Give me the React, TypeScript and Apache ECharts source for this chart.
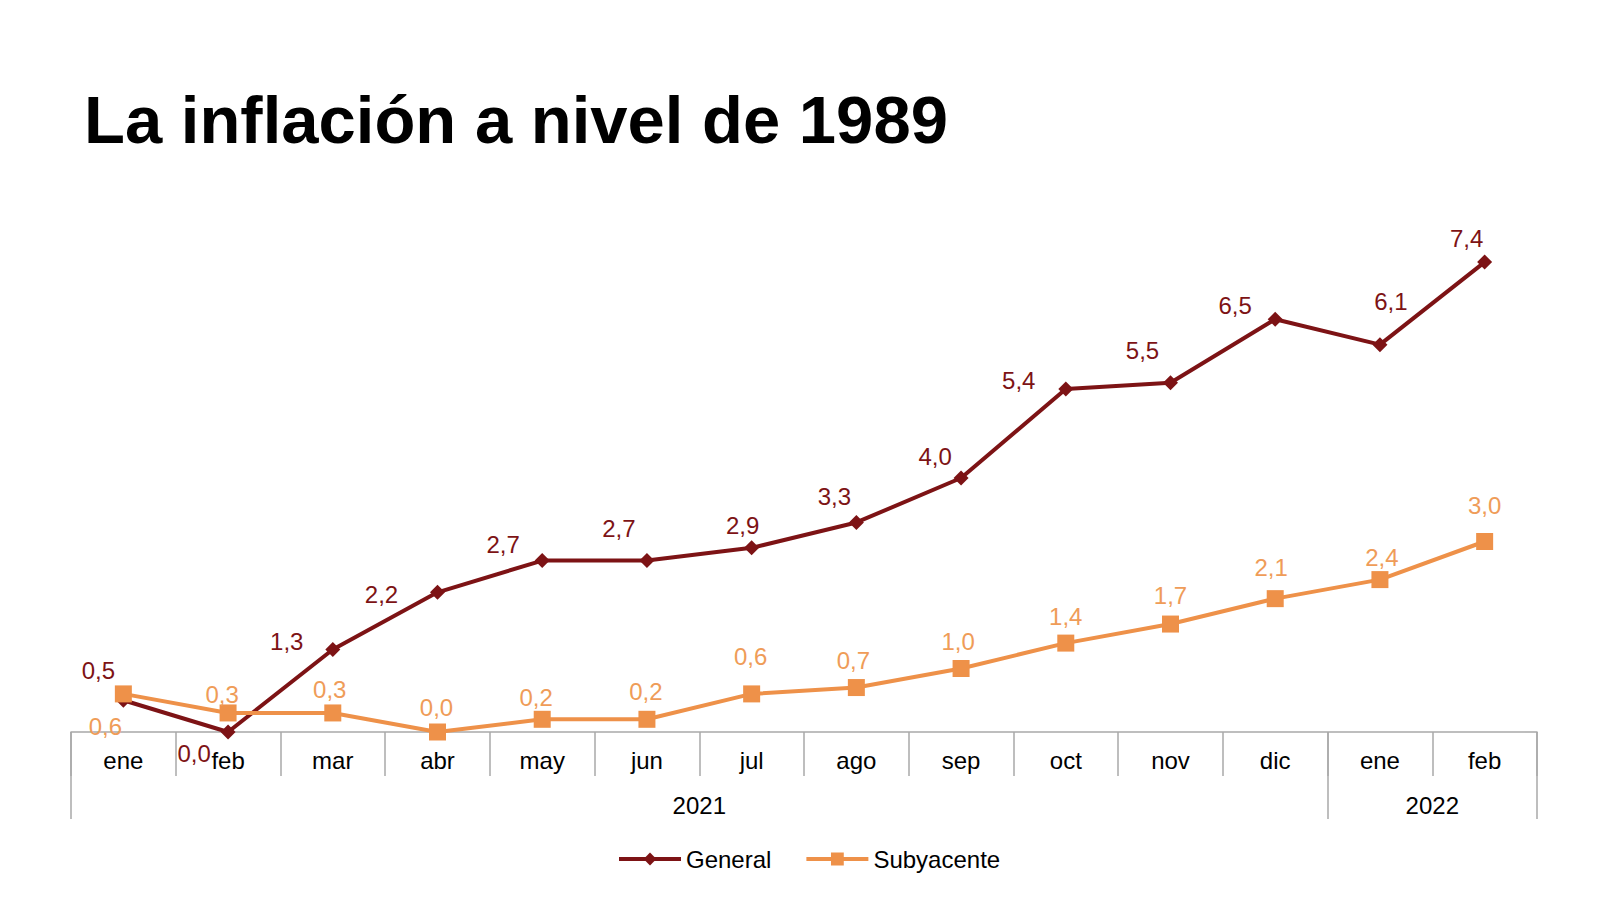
import React, { useEffect, useRef } from "react";
import * as echarts from "echarts";

const MONTHS = ["ene", "feb", "mar", "abr", "may", "jun", "jul", "ago", "sep", "oct", "nov", "dic", "ene", "feb"];
const MONTH_YEARS = ["2021", "2021", "2021", "2021", "2021", "2021", "2021", "2021", "2021", "2021", "2021", "2021", "2022", "2022"];
const GENERAL = [0.5, 0.0, 1.3, 2.2, 2.7, 2.7, 2.9, 3.3, 4.0, 5.4, 5.5, 6.5, 6.1, 7.4];
const SUBYACENTE = [0.6, 0.3, 0.3, 0.0, 0.2, 0.2, 0.6, 0.7, 1.0, 1.4, 1.7, 2.1, 2.4, 3.0];

// label offsets (pixels) replicating the manual label placement of the original
const GENERAL_LABEL_OFFSETS = [
  [-25, -30], [-34, 21], [-46, -8], [-56, 2], [-39, -16], [-28, -32], [-9, -22],
  [-22, -26], [-26, -22], [-47, -9], [-28, -32], [-40, -14], [11, -43], [-18, -24],
];
const SUB_LABEL_OFFSETS = [
  [-18, 33], [-6, -18], [-3, -23], [-1, -25], [-6, -22], [-1, -28], [-1, -37],
  [-3, -27], [-3, -27], [0, -27], [0, -29], [-4, -31], [2, -22], [0, -36],
];

const DARK_RED = "#7d1315";
const ORANGE = "#ee9149";
const ORANGE_LABEL = "#ef9c58";
const AXIS_GRAY = "#a8a8a8";
const FONT = "Liberation Sans, Arial, Helvetica, sans-serif";

function yearGroups() {
  const groups: { year: string; start: number; end: number }[] = [];
  MONTH_YEARS.forEach((y, i) => {
    const last = groups[groups.length - 1];
    if (last && last.year === y) last.end = i + 1;
    else groups.push({ year: y, start: i, end: i + 1 });
  });
  return groups;
}

export default function App() {
  const ref = useRef<HTMLDivElement>(null);
  useEffect(() => {
    if (!ref.current) return;
    const chart = echarts.init(ref.current, undefined, { renderer: "svg" });
    const groups = yearGroups();
    const boundaries = [0, ...groups.map((g) => g.end)];
    const centers = groups.map((g) => (g.start + g.end) / 2);

    const labelBase = { show: true, position: "inside", fontSize: 24, fontFamily: FONT, formatter: (p: any) => Number(p.value).toFixed(1).replace(".", ",") };

    chart.setOption({
      animation: false,
      backgroundColor: "#ffffff",
      graphic: [
        {
          type: "text",
          x: 84,
          y: 119,
          style: {
            text: "La inflación a nivel de 1989",
            fontSize: 67,
            fontWeight: "bold",
            fontFamily: FONT,
            fill: "#000000",
            verticalAlign: "middle",
          },
        },
      ],
      legend: {
        top: 842,
        left: 612,
        itemWidth: 62,
        itemHeight: 16,
        itemGap: 33,
        lineStyle: { width: 4 },
        textStyle: { fontSize: 24, fontFamily: FONT, color: "#000000" },
        data: ["General", "Subyacente"],
      },
      grid: { left: 71, right: 63, top: 224, bottom: 168 },
      xAxis: [
        {
          type: "category",
          data: MONTHS,
          boundaryGap: true,
          axisLine: { show: true, lineStyle: { color: AXIS_GRAY, width: 1.5 } },
          axisTick: { show: true, interval: 0, length: 44, lineStyle: { color: AXIS_GRAY, width: 1.5 } },
          axisLabel: { interval: 0, margin: 16, fontSize: 24, fontFamily: FONT, color: "#000000" },
        },
        {
          type: "value",
          position: "bottom",
          min: 0,
          max: MONTHS.length,
          axisLine: { show: false },
          splitLine: { show: false },
          axisTick: { show: true, customValues: boundaries, length: 87, lineStyle: { color: AXIS_GRAY, width: 1.5 } },
          axisLabel: {
            customValues: centers,
            margin: 61,
            fontSize: 24,
            fontFamily: FONT,
            color: "#000000",
            formatter: (v: number) => {
              const g = groups.find((gg) => (gg.start + gg.end) / 2 === v);
              return g ? g.year : "";
            },
          },
        },
      ],
      yAxis: { type: "value", min: 0, max: 8, show: false },
      series: [
        {
          name: "General",
          type: "line",
          xAxisIndex: 0,
          data: GENERAL.map((v, i) => ({ value: v, label: { offset: GENERAL_LABEL_OFFSETS[i] } })),
          symbol: "diamond",
          symbolSize: 15,
          lineStyle: { color: DARK_RED, width: 4 },
          itemStyle: { color: DARK_RED },
          label: { ...labelBase, color: DARK_RED },
          z: 2,
        },
        {
          name: "Subyacente",
          type: "line",
          xAxisIndex: 0,
          data: SUBYACENTE.map((v, i) => ({ value: v, label: { offset: SUB_LABEL_OFFSETS[i] } })),
          symbol: "rect",
          symbolSize: 17,
          lineStyle: { color: ORANGE, width: 4 },
          itemStyle: { color: ORANGE },
          label: { ...labelBase, color: ORANGE_LABEL },
          z: 3,
        },
      ],
    });
    return () => chart.dispose();
  }, []);
  return <div ref={ref} style={{ position: "fixed", left: 0, top: 0, width: 1600, height: 900 }} />;
}
